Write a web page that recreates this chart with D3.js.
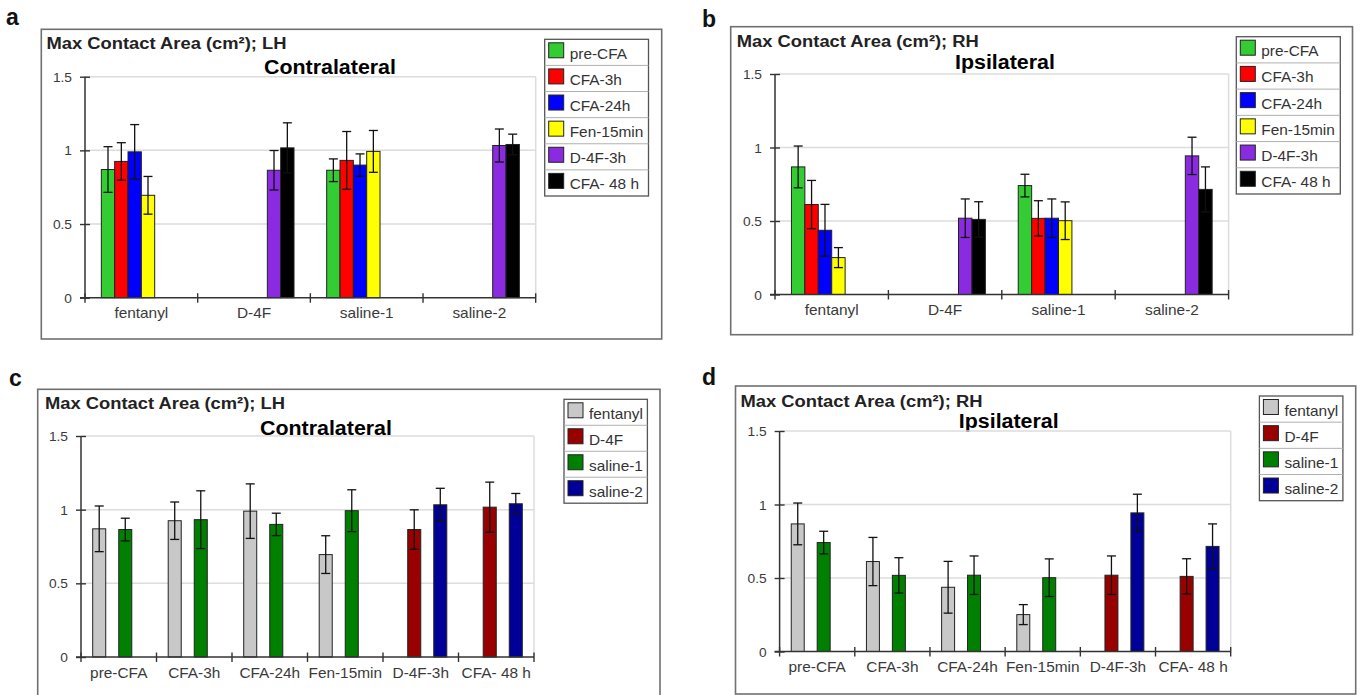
<!DOCTYPE html>
<html>
<head>
<meta charset="utf-8">
<script src="https://cdn.jsdelivr.net/npm/d3@7/dist/d3.min.js"></script>
<style>
  html, body { margin: 0; padding: 0; background: #fff; }
  svg { display: block; }
  text { font-family: "Liberation Sans", Arial, sans-serif; }
</style>
</head>
<body>
<script>
// Max contact area (cm²) per treatment group and time point, left (LH) and right (RH) hind paw.
const treatments = ["fentanyl", "D-4F", "saline-1", "saline-2"];
const timepoints = ["pre-CFA", "CFA-3h", "CFA-24h", "Fen-15min", "D-4F-3h", "CFA- 48 h"];
const yTicks = [0, 0.5, 1, 1.5];

// rows: treatments, columns: timepoints (null = not measured)
const lhMean = [
  [0.870, 0.925, 0.990, 0.695, null, null],
  [null, null, null, null, 0.865, 1.017],
  [0.865, 0.932, 0.900, 0.993, null, null],
  [null, null, null, null, 1.033, 1.040]
];
const lhErr = [
  [0.155, 0.127, 0.185, 0.128, null, null],
  [null, null, null, null, 0.134, 0.170],
  [0.077, 0.196, 0.076, 0.142, null, null],
  [null, null, null, null, 0.112, 0.070]
];
const rhMean = [
  [0.868, 0.612, 0.437, 0.251, null, null],
  [null, null, null, null, 0.519, 0.511],
  [0.741, 0.518, 0.519, 0.502, null, null],
  [null, null, null, null, 0.943, 0.715]
];
const rhErr = [
  [0.142, 0.164, 0.176, 0.068, null, null],
  [null, null, null, null, 0.131, 0.120],
  [0.077, 0.120, 0.131, 0.128, null, null],
  [null, null, null, null, 0.127, 0.153]
];

const timepointColors = ["#33cc33", "#ff0000", "#0000ff", "#ffff00", "#8a2be2", "#000000"];
const treatmentColors = ["#c8c8c8", "#990000", "#008000", "#000099"];

const W = 1362, H = 695;
const STRETCH = 1.1;

const svg = d3.select("body").append("svg")
  .attr("width", W).attr("height", H)
  .attr("viewBox", `0 0 ${W} ${H}`);

// horizontally widened text, anchored at (x, y)
function wideText(sel, x, y, str, opts) {
  return sel.append("text")
    .attr("transform", `translate(${x},${y}) scale(${opts.stretch ?? STRETCH},1)`)
    .attr("text-anchor", opts.anchor || "start")
    .attr("font-size", opts.size)
    .attr("font-weight", opts.weight || "normal")
    .attr("font-family", opts.family || null)
    .attr("fill", opts.fill || "#333")
    .text(str);
}

function drawPanel(p) {
  const g = svg.append("g");

  // outer frame
  g.append("rect")
    .attr("x", p.frame[0]).attr("y", p.frame[1])
    .attr("width", p.frame[2] - p.frame[0]).attr("height", p.frame[3] - p.frame[1])
    .attr("fill", "#fff").attr("stroke", "#707070").attr("stroke-width", 1.6);

  // panel letter
  g.append("text")
    .attr("x", p.letterPos[0]).attr("y", p.letterPos[1])
    .attr("font-family", "'Open Sans', 'Noto Sans', sans-serif")
    .attr("font-weight", 700).attr("font-size", 23).attr("fill", "#111")
    .text(p.letter);

  wideText(g, p.titlePos[0], p.titlePos[1], p.title, { size: 17, weight: "bold", fill: "#222", stretch: 1.08 });
  wideText(g, p.subPos[0], p.subPos[1], p.sub, { size: 20, weight: "bold", fill: "#000", stretch: 1.07 });

  const x0 = d3.scaleBand().domain(p.categories).range([p.ax0, p.ax1]).padding(0);
  const bw = x0.bandwidth();
  const inset = bw * (1 - p.groupFrac) / 2;
  const x1 = d3.scaleBand().domain(p.series).range([inset, bw - inset]).padding(0);
  const y = d3.scaleLinear().domain([0, 1.5]).range([p.yb, p.yt]);

  // light plot-area grid
  g.append("g").selectAll("line").data(yTicks.filter(v => v > 0)).join("line")
    .attr("x1", p.ax0).attr("x2", p.ax1)
    .attr("y1", d => y(d)).attr("y2", d => y(d))
    .attr("stroke", "#dcdcdc").attr("stroke-width", 1.5);
  g.append("line")
    .attr("x1", p.ax1).attr("x2", p.ax1).attr("y1", y(0)).attr("y2", y(1.5))
    .attr("stroke", "#dcdcdc").attr("stroke-width", 1.5);

  // bars + error bars
  const cells = [];
  p.categories.forEach((c, ci) => {
    p.series.forEach((s, si) => {
      const m = p.mean(ci, si), e = p.err(ci, si);
      if (m != null) cells.push({ c, s, si, m, e });
    });
  });

  g.append("g").selectAll("rect").data(cells).join("rect")
    .attr("x", d => x0(d.c) + x1(d.s))
    .attr("y", d => y(d.m))
    .attr("width", x1.bandwidth())
    .attr("height", d => y(0) - y(d.m))
    .attr("fill", d => p.colors[d.si])
    .attr("stroke", "#222").attr("stroke-width", 1);

  const eb = g.append("g").attr("stroke", "#111").attr("stroke-width", 1.3);
  const cx = d => x0(d.c) + x1(d.s) + x1.bandwidth() / 2;
  const capW = 4.5;
  eb.selectAll("line.v").data(cells).join("line").attr("class", "v")
    .attr("x1", cx).attr("x2", cx)
    .attr("y1", d => y(d.m + d.e)).attr("y2", d => y(d.m - d.e));
  eb.selectAll("line.t").data(cells).join("line").attr("class", "t")
    .attr("x1", d => cx(d) - capW).attr("x2", d => cx(d) + capW)
    .attr("y1", d => y(d.m + d.e)).attr("y2", d => y(d.m + d.e));
  eb.selectAll("line.b").data(cells).join("line").attr("class", "b")
    .attr("x1", d => cx(d) - capW).attr("x2", d => cx(d) + capW)
    .attr("y1", d => y(d.m - d.e)).attr("y2", d => y(d.m - d.e));

  // y axis
  const gy = g.append("g").attr("transform", `translate(${p.ax0},0)`)
    .call(d3.axisLeft(y).tickValues(yTicks).tickFormat(d3.format("~g")).tickSize(5));
  gy.select(".domain").attr("stroke", "#333").attr("stroke-width", 1.5).attr("d", `M0,${y(0)}V${y(1.5)}`);
  gy.selectAll(".tick line").attr("x1", -5).attr("x2", 5).attr("stroke", "#333").attr("stroke-width", 1.4);
  gy.selectAll(".tick text")
    .attr("x", null).attr("dy", null)
    .attr("transform", "translate(-13,4.5) scale(1.1,1)")
    .attr("font-size", 12.5).attr("fill", "#3a3a3a")
    .attr("font-family", "'Liberation Sans', Arial, sans-serif");

  // x axis
  const gx = g.append("g").attr("transform", `translate(0,${y(0)})`)
    .call(d3.axisBottom(x0).tickSize(0).tickPadding(0));
  gx.select(".domain").attr("stroke", "#333").attr("stroke-width", 1.5).attr("d", `M${p.ax0 - 5},0H${p.ax1}`);
  gx.selectAll(".tick text")
    .attr("y", null).attr("dy", null)
    .attr("transform", "translate(0,20.5) scale(1.1,1)")
    .attr("font-size", 14).attr("fill", "#3a3a3a")
    .attr("font-family", "'Liberation Sans', Arial, sans-serif");
  const bounds = p.categories.map(c => x0(c)).concat([p.ax1]);
  gx.append("g").selectAll("line").data(bounds).join("line")
    .attr("x1", d => d).attr("x2", d => d).attr("y1", -4.5).attr("y2", 5)
    .attr("stroke", "#333").attr("stroke-width", 1.4);

  // legend
  const L = p.legend;
  const lg = g.append("g");
  const rowH = (L[3] - L[1]) / p.series.length;
  lg.append("rect").attr("x", L[0]).attr("y", L[1])
    .attr("width", L[2] - L[0]).attr("height", L[3] - L[1])
    .attr("fill", "#fff").attr("stroke", "#555").attr("stroke-width", 1.3);
  p.series.forEach((s, i) => {
    const top = L[1] + i * rowH;
    if (i > 0) lg.append("line").attr("x1", L[0]).attr("x2", L[2]).attr("y1", top).attr("y2", top)
      .attr("stroke", "#b0b0b0").attr("stroke-width", 1);
    lg.append("rect").attr("x", L[0] + 4).attr("y", top + 3.5)
      .attr("width", 15).attr("height", 15)
      .attr("fill", p.colors[i]).attr("stroke", "#222").attr("stroke-width", 1);
    wideText(lg, L[0] + 25, top + 19.5, s, { size: 14, fill: "#333" });
  });
}

const byTreatment = (M) => (ci, si) => M[ci][si];
const byTimepoint = (M) => (ci, si) => M[si][ci];

drawPanel({
  letter: "a", letterPos: [6, 25],
  frame: [41.3, 29.3, 661.7, 339],
  ax0: 85, ax1: 535.7, yb: 297.7, yt: 76.7,
  title: "Max Contact Area (cm²); LH", titlePos: [46.5, 49],
  sub: "Contralateral", subPos: [264, 73.5],
  legend: [544.7, 39.3, 648.5, 196],
  categories: treatments, series: timepoints, colors: timepointColors,
  mean: byTreatment(lhMean), err: byTreatment(lhErr), groupFrac: 0.71
});

drawPanel({
  letter: "b", letterPos: [702, 27],
  frame: [730.7, 26.7, 1352.5, 334.7],
  ax0: 775, ax1: 1228.6, yb: 294.5, yt: 74,
  title: "Max Contact Area (cm²); RH", titlePos: [736.8, 47.3],
  sub: "Ipsilateral", subPos: [955, 69.3],
  legend: [1236.3, 36.7, 1340.3, 194],
  categories: treatments, series: timepoints, colors: timepointColors,
  mean: byTreatment(rhMean), err: byTreatment(rhErr), groupFrac: 0.71
});

drawPanel({
  letter: "c", letterPos: [9, 386],
  frame: [37.7, 389.3, 660, 720],
  ax0: 81, ax1: 534, yb: 657, yt: 436,
  title: "Max Contact Area (cm²); LH", titlePos: [45, 409.3],
  sub: "Contralateral", subPos: [260, 434.5],
  legend: [564, 399.3, 647.4, 503.2],
  categories: timepoints, series: treatments, colors: treatmentColors,
  mean: byTimepoint(lhMean), err: byTimepoint(lhErr), groupFrac: 0.69
});

drawPanel({
  letter: "d", letterPos: [702, 385],
  frame: [735.5, 386, 1355.7, 694],
  ax0: 779.6, ax1: 1230.7, yb: 651.5, yt: 431,
  title: "Max Contact Area (cm²); RH", titlePos: [740.4, 406.7],
  sub: "Ipsilateral", subPos: [958.8, 428],
  legend: [1259.4, 396, 1342.9, 500.7],
  categories: timepoints, series: treatments, colors: treatmentColors,
  mean: byTimepoint(rhMean), err: byTimepoint(rhErr), groupFrac: 0.69
});
</script>
</body>
</html>
